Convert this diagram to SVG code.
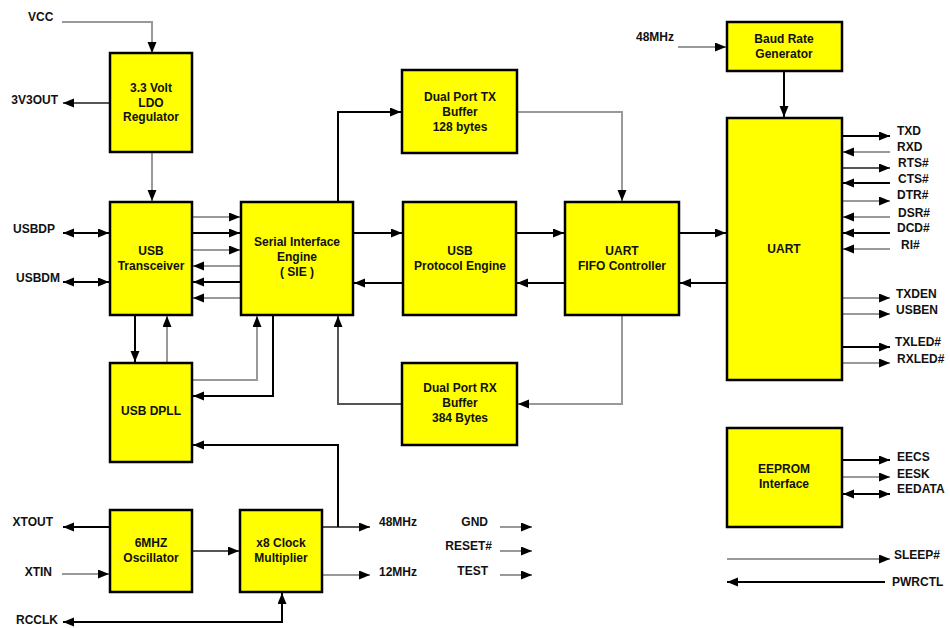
<svg xmlns="http://www.w3.org/2000/svg" width="950" height="628" viewBox="0 0 950 628">
<style>
.box{fill:#ffff00;stroke:#000;stroke-width:2.5}
.t{font-family:"Liberation Sans",Arial,sans-serif;font-size:12px;font-weight:bold;fill:#111}
.c{text-anchor:middle}
.e{text-anchor:end}
.k{fill:none;stroke:#000;stroke-width:2}
.g{fill:none;stroke:#999;stroke-width:2}
.d{fill:none;stroke:#555;stroke-width:2}
.a{marker-end:url(#ah)}
.s{marker-start:url(#ah)}
</style>
<defs>
<marker id="ah" markerUnits="userSpaceOnUse" markerWidth="12" markerHeight="10" refX="11" refY="4.5" orient="auto-start-reverse">
<path d="M0,0 L11,4.5 L0,9 z" fill="#000"/>
</marker>
</defs>
<rect width="950" height="628" fill="#fff"/>
<g id="connectors">
<path class="g a" d="M62,22 H152 V53"/>
<path class="d a" d="M110,103 H63"/>
<path class="g a" d="M152,152 V201"/>
<path class="k a s" d="M63,233 H109"/>
<path class="k a s" d="M63,282 H109"/>
<path class="g a" d="M192,217 H240"/>
<path class="k a" d="M192,233 H240"/>
<path class="g a" d="M192,250 H240"/>
<path class="g a" d="M241,266 H193"/>
<path class="k a" d="M241,282 H193"/>
<path class="g a" d="M241,298 H193"/>
<path class="k a" d="M135,315 V362"/>
<path class="g a" d="M167,363 V316"/>
<path class="g a" d="M192,380 H257 V316"/>
<path class="k a" d="M273,315 V396 H193"/>
<path class="k a" d="M338,202 V112 H401"/>
<path class="g a" d="M517,112 H622 V201"/>
<path class="d a" d="M402,404 H338 V316"/>
<path class="g a" d="M622,315 V404 H518"/>
<path class="k a" d="M353,233 H402"/>
<path class="k a" d="M403,283 H354"/>
<path class="k a" d="M516,233 H564"/>
<path class="k a" d="M565,283 H517"/>
<path class="k a" d="M679,233 H726"/>
<path class="k a" d="M727,283 H680"/>
<path class="g a" d="M678,47 H726"/>
<path class="k a" d="M784,71 V117"/>
<path class="k a" d="M842,136 H890"/>
<path class="g a" d="M890,152 H843"/>
<path class="d a" d="M842,168 H890"/>
<path class="k a" d="M890,183 H843"/>
<path class="g a" d="M842,201 H890"/>
<path class="g a" d="M890,217 H843"/>
<path class="k a" d="M890,233 H843"/>
<path class="g a" d="M890,249 H843"/>
<path class="g a" d="M842,298 H890"/>
<path class="g a" d="M842,314 H890"/>
<path class="k a" d="M842,347 H890"/>
<path class="g a" d="M842,363 H890"/>
<path class="k a" d="M842,460 H890"/>
<path class="g a" d="M842,477 H890"/>
<path class="k a s" d="M843,494 H890"/>
<path class="g a" d="M727,559 H890"/>
<path class="k a" d="M885,582 H727"/>
<path class="k a" d="M110,527 H63"/>
<path class="g a" d="M62,574 H109"/>
<path class="d a" d="M192,551 H239"/>
<path class="d a" d="M322,527 H370"/>
<path class="k a" d="M338,527 V445 H193"/>
<path class="g a" d="M322,575 H370"/>
<path class="k a s" d="M63,622 H282 V593"/>
<path class="g a" d="M500,527 H532"/>
<path class="g a" d="M500,551 H532"/>
<path class="g a" d="M500,575 H532"/>
</g>
<g id="ldo"><rect class="box" x="110" y="53" width="82" height="99"/>
<text class="t c" x="151" y="92">3.3 Volt</text><text class="t c" x="151" y="107">LDO</text><text class="t c" x="151" y="121">Regulator</text></g>
<g id="transceiver"><rect class="box" x="110" y="202" width="82" height="113"/>
<text class="t c" x="151" y="255">USB</text><text class="t c" x="151" y="270">Transceiver</text></g>
<g id="sie"><rect class="box" x="241" y="202" width="112" height="113"/>
<text class="t c" x="297" y="246">Serial Interface</text><text class="t c" x="297" y="261">Engine</text><text class="t c" x="297" y="276">( SIE )</text></g>
<g id="dpll"><rect class="box" x="110" y="363" width="82" height="99"/>
<text class="t c" x="151" y="415">USB DPLL</text></g>
<g id="txbuf"><rect class="box" x="402" y="70" width="115" height="83"/>
<text class="t c" x="460" y="101">Dual Port TX</text><text class="t c" x="460" y="116">Buffer</text><text class="t c" x="460" y="131">128 bytes</text></g>
<g id="pe"><rect class="box" x="403" y="202" width="113" height="113"/>
<text class="t c" x="460" y="255">USB</text><text class="t c" x="460" y="270">Protocol Engine</text></g>
<g id="fifo"><rect class="box" x="565" y="202" width="114" height="113"/>
<text class="t c" x="622" y="255">UART</text><text class="t c" x="622" y="270">FIFO Controller</text></g>
<g id="rxbuf"><rect class="box" x="402" y="363" width="115" height="82"/>
<text class="t c" x="460" y="392">Dual Port RX</text><text class="t c" x="460" y="407">Buffer</text><text class="t c" x="460" y="422">384 Bytes</text></g>
<g id="brg"><rect class="box" x="727" y="22" width="115" height="49"/>
<text class="t c" x="784" y="43">Baud Rate</text><text class="t c" x="784" y="58">Generator</text></g>
<g id="uart"><rect class="box" x="727" y="118" width="115" height="262"/>
<text class="t c" x="784" y="253">UART</text></g>
<g id="eeprom"><rect class="box" x="727" y="428" width="115" height="99"/>
<text class="t c" x="784" y="473">EEPROM</text><text class="t c" x="784" y="488">Interface</text></g>
<g id="osc"><rect class="box" x="110" y="510" width="82" height="82"/>
<text class="t c" x="151" y="547">6MHZ</text><text class="t c" x="151" y="562">Oscillator</text></g>
<g id="mult"><rect class="box" x="240" y="510" width="82" height="82"/>
<text class="t c" x="281" y="547">x8 Clock</text><text class="t c" x="281" y="562">Multiplier</text></g>
<g id="labels">
<text class="t" x="28" y="21">VCC</text>
<text class="t e" x="58" y="104">3V3OUT</text>
<text class="t e" x="55" y="233">USBDP</text>
<text class="t e" x="60" y="282">USBDM</text>
<text class="t e" x="53" y="526">XTOUT</text>
<text class="t e" x="52" y="576">XTIN</text>
<text class="t e" x="58" y="624">RCCLK</text>
<text class="t" x="636" y="41">48MHz</text>
<text class="t e" x="417" y="526">48MHz</text>
<text class="t e" x="417" y="576">12MHz</text>
<text class="t e" x="488" y="526">GND</text>
<text class="t e" x="492" y="550">RESET#</text>
<text class="t e" x="488" y="575">TEST</text>
<text class="t" x="897" y="135">TXD</text>
<text class="t" x="897" y="151">RXD</text>
<text class="t" x="898" y="167">RTS#</text>
<text class="t" x="898" y="183">CTS#</text>
<text class="t" x="897" y="199">DTR#</text>
<text class="t" x="898" y="217">DSR#</text>
<text class="t" x="897" y="232">DCD#</text>
<text class="t" x="901" y="249">RI#</text>
<text class="t" x="896" y="298">TXDEN</text>
<text class="t" x="896" y="314">USBEN</text>
<text class="t" x="895" y="346">TXLED#</text>
<text class="t" x="897" y="363">RXLED#</text>
<text class="t" x="897" y="461">EECS</text>
<text class="t" x="897" y="478">EESK</text>
<text class="t" x="897" y="493">EEDATA</text>
<text class="t" x="894" y="559">SLEEP#</text>
<text class="t" x="892" y="586">PWRCTL</text>
</g>
</svg>
